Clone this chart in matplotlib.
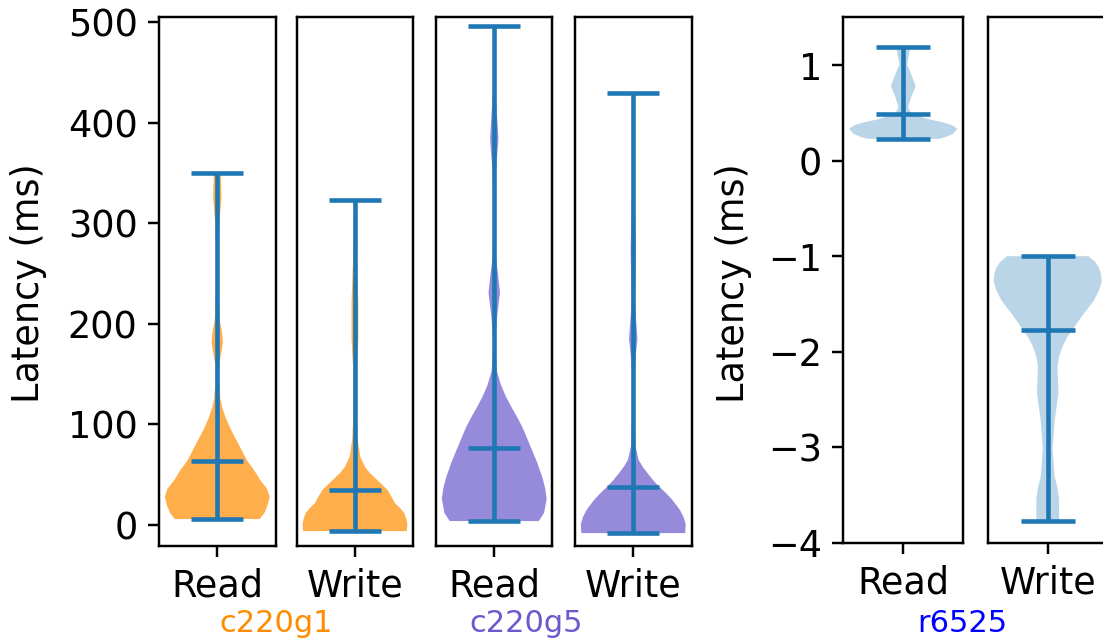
import matplotlib
matplotlib.use('Agg')
from matplotlib import pyplot as plt

# violin outlines: latency value and relative half-width
labels = ["Read", "Write"]

g1_read_y = [6, 12, 19, 28, 36, 44, 54, 64, 75, 86, 96, 107, 116, 125, 146, 160, 172, 182, 192, 203, 238, 274, 300, 327, 350]
g1_read_w = [0.81, 0.9, 0.955, 1.0, 0.95, 0.83, 0.71, 0.57, 0.46, 0.35, 0.25, 0.16, 0.1, 0.06, 0.03, 0.04, 0.08, 0.11, 0.09, 0.05, 0.02, 0.02, 0.04, 0.08, 0.065]
g1_read_stats = (6, 64, 350)  # min, median, max

g1_write_y = [-6, 1, 6, 12, 17, 22, 28, 35, 41, 47, 52, 58, 68, 86, 114, 150, 185, 221, 274, 323.5]
g1_write_w = [0.99, 1.0, 0.98, 0.94, 0.86, 0.76, 0.7, 0.62, 0.5, 0.38, 0.28, 0.19, 0.1, 0.05, 0.03, 0.03, 0.065, 0.065, 0.03, 0.02]
g1_write_stats = (-6, 35, 323.5)

g5_read_y = [4, 12, 26, 37, 47, 62, 77, 87, 97, 108, 118, 128, 139, 153, 170, 185, 210, 231, 250, 267, 309, 350, 384, 410, 433, 487, 496]
g5_read_w = [0.85, 0.95, 1.0, 0.97, 0.92, 0.82, 0.7, 0.62, 0.54, 0.43, 0.32, 0.22, 0.13, 0.05, 0.025, 0.02, 0.06, 0.11, 0.07, 0.03, 0.015, 0.03, 0.08, 0.05, 0.02, 0.01, 0.01]
g5_read_stats = (4, 77, 496)

g5_write_y = [-8, 1, 8, 15, 20, 26, 32, 38, 44, 51, 58, 65, 79, 114, 150, 170, 185, 200, 221, 274, 345, 429]
g5_write_w = [0.99, 1.0, 0.96, 0.89, 0.82, 0.73, 0.62, 0.5, 0.39, 0.28, 0.18, 0.1, 0.04, 0.02, 0.02, 0.05, 0.08, 0.06, 0.03, 0.05, 0.015, 0.01]
g5_write_stats = (-8, 38, 429)

r_read_y = [0.228, 0.25, 0.28, 0.33, 0.355, 0.38, 0.405, 0.43, 0.49, 0.56, 0.67, 0.78, 0.90, 1.01, 1.12, 1.187]
r_read_w = [0.67, 0.8, 0.92, 1.0, 0.95, 0.86, 0.7, 0.49, 0.15, 0.09, 0.15, 0.23, 0.15, 0.07, 0.11, 0.13]
r_read_stats = (0.228, 0.489, 1.187)

r_write_y = [-3.77, -3.65, -3.54, -3.42, -3.31, -3.02, -2.72, -2.43, -2.16, -2.05, -1.94, -1.85, -1.77, -1.68, -1.6, -1.53, -1.46, -1.36, -1.27, -1.19, -1.12, -1.06, -1.0]
r_write_w = [0.21, 0.21, 0.21, 0.18, 0.13, 0.09, 0.13, 0.2, 0.18, 0.21, 0.28, 0.36, 0.46, 0.57, 0.67, 0.77, 0.86, 0.95, 1.0, 0.99, 0.95, 0.88, 0.75]
r_write_stats = (-3.77, -1.772, -1.0)

W, H = 1103, 643
fig = plt.figure(figsize=(W / 220, H / 220), dpi=220)


def add_ax(left, bottom, top, width):
    return fig.add_axes([left / W, (H - bottom) / H, width / W, (bottom - top) / H])


def draw(ax, ys, ws, st, color, alpha, label):
    vp = [{'coords': ys, 'vals': ws, 'min': st[0], 'median': st[1], 'mean': st[1],
           'max': st[2], 'quantiles': []}]
    parts = ax.violin(vp, positions=[1], widths=0.9, showmedians=True)
    for b in parts['bodies']:
        b.set_facecolor(color)
        b.set_edgecolor('none')
        b.set_linewidth(0)
        b.set_alpha(alpha)
    for k in ['cmins', 'cmaxes', 'cbars', 'cmedians']:
        parts[k].set_color('#1f77b4')
        parts[k].set_linewidth(1.5)
    ax.set_xlim(0.5, 1.5)
    ax.set_xticks([1])
    ax.set_xticklabels([label], fontsize=12)


left_data = [
    (g1_read_y, g1_read_w, g1_read_stats, 'darkorange'),
    (g1_write_y, g1_write_w, g1_write_stats, 'darkorange'),
    (g5_read_y, g5_read_w, g5_read_stats, 'slateblue'),
    (g5_write_y, g5_write_w, g5_write_stats, 'slateblue'),
]
lefts = [159, 296.7, 436, 575]
for i, (ys, ws, st, c) in enumerate(left_data):
    ax = add_ax(lefts[i], 545.7, 17, 116.5)
    draw(ax, ys, ws, st, c, 0.7, labels[i % 2])
    ax.set_ylim(-20.5, 505)
    ax.set_yticks([0, 100, 200, 300, 400, 500])
    if i == 0:
        ax.tick_params(axis='y', labelsize=12)
    else:
        ax.tick_params(axis='y', left=False, labelleft=False)

right_data = [
    (r_read_y, r_read_w, r_read_stats),
    (r_write_y, r_write_w, r_write_stats),
]
for i, (ys, ws, st) in enumerate(right_data):
    ax = add_ax([843.3, 987.7][i], 542.7, 17.3, 120)
    draw(ax, ys, ws, st, '#1f77b4', 0.3, labels[i])
    ax.set_ylim(-4, 1.5)
    ax.set_yticks([-4, -3, -2, -1, 0, 1])
    if i == 0:
        ax.tick_params(axis='y', labelsize=12)
    else:
        ax.tick_params(axis='y', left=False, labelleft=False)

fig.text(29 / W, (H - 283) / H, "Latency (ms)", rotation=90, ha='center', va='center', fontsize=12)
fig.text(734 / W, (H - 283) / H, "Latency (ms)", rotation=90, ha='center', va='center', fontsize=12)

base = (H - 631.7) / H
fig.text(276 / W, base, "c220g1", color='darkorange', ha='center', va='baseline', fontsize=10)
fig.text(526 / W, base, "c220g5", color='slateblue', ha='center', va='baseline', fontsize=10)
fig.text(962 / W, base, "r6525", color='blue', ha='center', va='baseline', fontsize=10)

fig.savefig('out.png', dpi=220)
